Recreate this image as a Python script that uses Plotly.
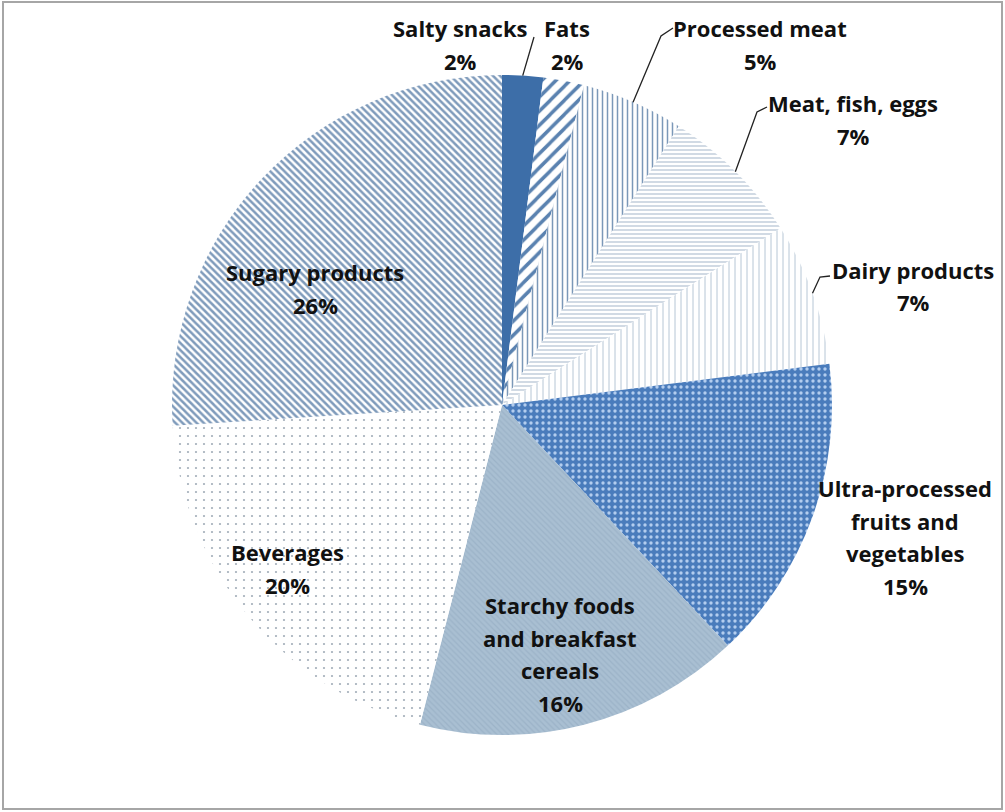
import math
import plotly.graph_objects as go

categories = ["Salty snacks", "Fats", "Processed meat", "Meat, fish, eggs",
              "Dairy products", "Ultra-processed<br>fruits and<br>vegetables",
              "Starchy foods<br>and breakfast<br>cereals", "Beverages", "Sugary products"]
values = [2, 2, 5, 7, 7, 15, 16, 20, 26]

W, H = 1005, 812
CX, CY, R = 502, 405, 330

# patterns / colours per slice
bgcolors = ["#3d6ea8", "#ffffff", "#ffffff", "#ffffff", "#ffffff", "#4a7cbc", "#a9bfd2", "#ffffff", "#ffffff"]
fgcolors = ["#3d6ea8", "#5a82b0", "#7b98b8", "#a3b6ca", "#98aec4", "#b3cdef", "#9cb3c8", "#a3aeb9", "#7f9bbb"]
shapes_p = ["", "/", "|", "-", "|", ".", "\\", ".", "\\"]
sizes = [8, 10, 5, 4, 6, 6, 4, 8, 5]
solid = [0.3, 0.35, 0.3, 0.25, 0.12, 0.25, 0.3, 0.06, 0.5]

fig = go.Figure(go.Pie(
    labels=categories, values=values, sort=False, direction="clockwise", rotation=0,
    textinfo="none", hoverinfo="label+percent",
    marker=dict(colors=bgcolors, line=dict(width=0),
                pattern=dict(shape=shapes_p, fgcolor=fgcolors, bgcolor=bgcolors,
                             size=sizes, solidity=solid, fillmode="replace")),
    domain=dict(x=[(CX - R) / W, (CX + R) / W], y=[1 - (CY + R) / H, 1 - (CY - R) / H]),
    showlegend=False,
))

# label placement (pixel centres of first line), per slice
label_pos = [(460, 28), (567, 28), (760, 28), (853, 103), (913, 270),
             (905, 488), (560, 605), (287, 552), (315, 272)]
LINE = 32.5

FONT = dict(family="'Open Sans', Lato, sans-serif", size=22, color="#111111")
annotations = []
total = sum(values)
for cat, v, (lx, ly) in zip(categories, values, label_pos):
    pct = round(100 * v / total)
    lines = cat.split("<br>") + [f"{pct}%"]
    for i, t in enumerate(lines):
        annotations.append(dict(x=lx / W, y=1 - (ly + i * LINE) / H, xref="paper", yref="paper",
                                text=f"<b>{t}</b>", showarrow=False, font=FONT,
                                xanchor="center", yanchor="middle"))

# leader lines: from label side to slice mid-angle on the rim
leader_from = {0: [(534, 37)], 2: [(673, 28), (661, 36)], 3: [(767, 107), (757, 112)],
               4: [(830, 276), (820, 277)]}
shapes = []
cum = 0
mids = []
for v in values:
    mids.append((cum + v / 2) / total * 2 * math.pi)
    cum += v
for idx, pts in leader_from.items():
    a = mids[idx]
    ex, ey = CX + R * math.sin(a), CY - R * math.cos(a)
    allpts = pts + [(ex, ey)]
    path = "M " + " L ".join(f"{px / W},{1 - py / H}" for px, py in allpts)
    shapes.append(dict(type="path", path=path, xref="paper", yref="paper",
                       line=dict(color="#222222", width=1.3)))

# outer frame
shapes.append(dict(type="rect", xref="paper", yref="paper", x0=3 / W, x1=1002 / W,
                   y0=1 - 809 / H, y1=1 - 2 / H, line=dict(color="#a6a6a6", width=2)))

fig.update_layout(width=W, height=H, margin=dict(l=0, r=0, t=0, b=0),
                  paper_bgcolor="white", plot_bgcolor="white",
                  annotations=annotations, shapes=shapes)
fig.write_html("out.html")
